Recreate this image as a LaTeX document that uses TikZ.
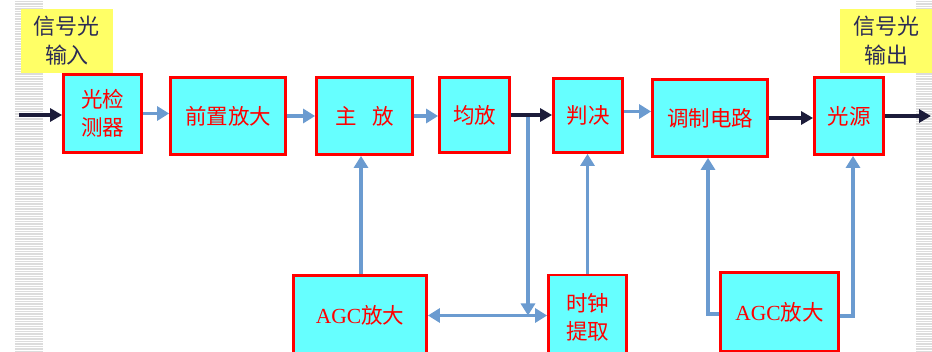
\documentclass[tikz,border=0pt]{standalone}
\usepackage{fontspec}
\setmainfont{Liberation Serif}
\newfontfamily\cjk{Noto Sans CJK SC}
\usetikzlibrary{arrows.meta}
\definecolor{boxfill}{HTML}{66FFFF}
\definecolor{boxline}{HTML}{FF0000}
\definecolor{bluearr}{HTML}{6B9BD0}
\definecolor{darkarr}{HTML}{1C1C3A}
\definecolor{labfill}{HTML}{FFFF66}
\definecolor{labtext}{HTML}{2B2B55}
\definecolor{stripe}{HTML}{DCDCDC}
\tikzset{
  blk/.style={draw=boxline, line width=2.8pt, fill=boxfill, text=boxline, inner sep=0pt,
    font=\fontsize{21.5}{28}\selectfont\cjk, align=center},
  lab/.style={fill=labfill, text=labtext, inner sep=0pt, font=\fontsize{22}{29}\selectfont\cjk, align=center},
  barr/.style={draw=bluearr, line width=3.8pt, -{Triangle[length=12pt,width=14pt]}},
  darr/.style={draw=darkarr, line width=3.2pt, -{Triangle[length=12pt,width=13pt]}},
}
\begin{document}
\begin{tikzpicture}[x=1pt,y=-1pt]
\useasboundingbox (0,0) rectangle (932,352);
\begin{scope}
\clip (0,0) rectangle (932,352);
\fill[white] (0,0) rectangle (932,352);
% striped side bars
\fill[stripe] (15,0) rectangle (43,352);
\fill[stripe] (916,0) rectangle (932,352);
\foreach \yy in {0,2.5,...,351} {
  \draw[white, line width=0.9pt] (15,\yy) -- (43,\yy);
  \draw[white, line width=0.9pt] (916,\yy) -- (932,\yy);
}
% labels
\node[lab, minimum width=92pt, minimum height=64pt] (lin) at (67,41) {信号光\\输入};
\node[lab, minimum width=92pt, minimum height=64pt] (lout) at (886,41) {信号光\\输出};
% boxes
\node[blk, minimum width=78pt, minimum height=78pt] (pd) at (102.5,113.5) {光检\\测器};
\node[blk, minimum width=115pt, minimum height=77pt] (pre) at (228,116) {前置放大};
\node[blk, minimum width=96pt, minimum height=77pt] (main) at (364.5,116) {主\hspace{0.7em}放};
\node[blk, minimum width=70pt, minimum height=75pt] (eq) at (474.5,115) {均放};
\node[blk, minimum width=69pt, minimum height=74pt] (dec) at (588,115.5) {判决};
\node[blk, minimum width=115pt, minimum height=77pt] (mod) at (710,118) {调制电路};
\node[blk, minimum width=69pt, minimum height=77pt] (src) at (849,116) {光源};
\node[blk, minimum width=133pt, minimum height=80pt] (agc1) at (360,315.5) {{\rmfamily AGC}放大};
\node[blk, minimum width=78pt, minimum height=84pt] (clk) at (587.5,317) {时钟\\提取};
\node[blk, minimum width=118pt, minimum height=79pt] (agc2) at (779.5,312) {{\rmfamily AGC}放大};
% coordinates
\coordinate (in) at (19,115);
\coordinate (out) at (931,117);
\coordinate (br) at (528,117);
% arrows
\draw[darr] (in) -- (pd.west |- in);
\draw[barr] (pd.east) -- (pd.east -| pre.west);
\draw[barr] (pre.east) -- (pre.east -| main.west);
\draw[barr] (main.east) -- (main.east -| eq.west);
\draw[darr] (eq.east) -- (eq.east -| dec.west);
\draw[barr] ([yshift=4pt]dec.east) -- ([yshift=4pt]dec.east -| mod.west);
\draw[darr] (mod.east) -- (mod.east -| src.west);
\draw[darr] (src.east) -- (out |- src.east);
\draw[barr] ([xshift=1pt]agc1.north) -- ([xshift=1pt]agc1.north |- main.south);
\draw[barr] (clk.north) -- (clk.north |- dec.south);
\draw[barr] (br) -- (br |- agc1.east);
\draw[barr, {Triangle[length=12pt,width=14pt]}-{Triangle[length=12pt,width=14pt]}] (agc1.east) -- (agc1.east -| clk.west);
\draw[barr] ([yshift=-2pt]agc2.west) -| ([xshift=-2pt]mod.south);
\draw[barr] ([yshift=-4pt]agc2.east) -| ([xshift=4pt]src.south);
\end{scope}
\end{tikzpicture}
\end{document}
